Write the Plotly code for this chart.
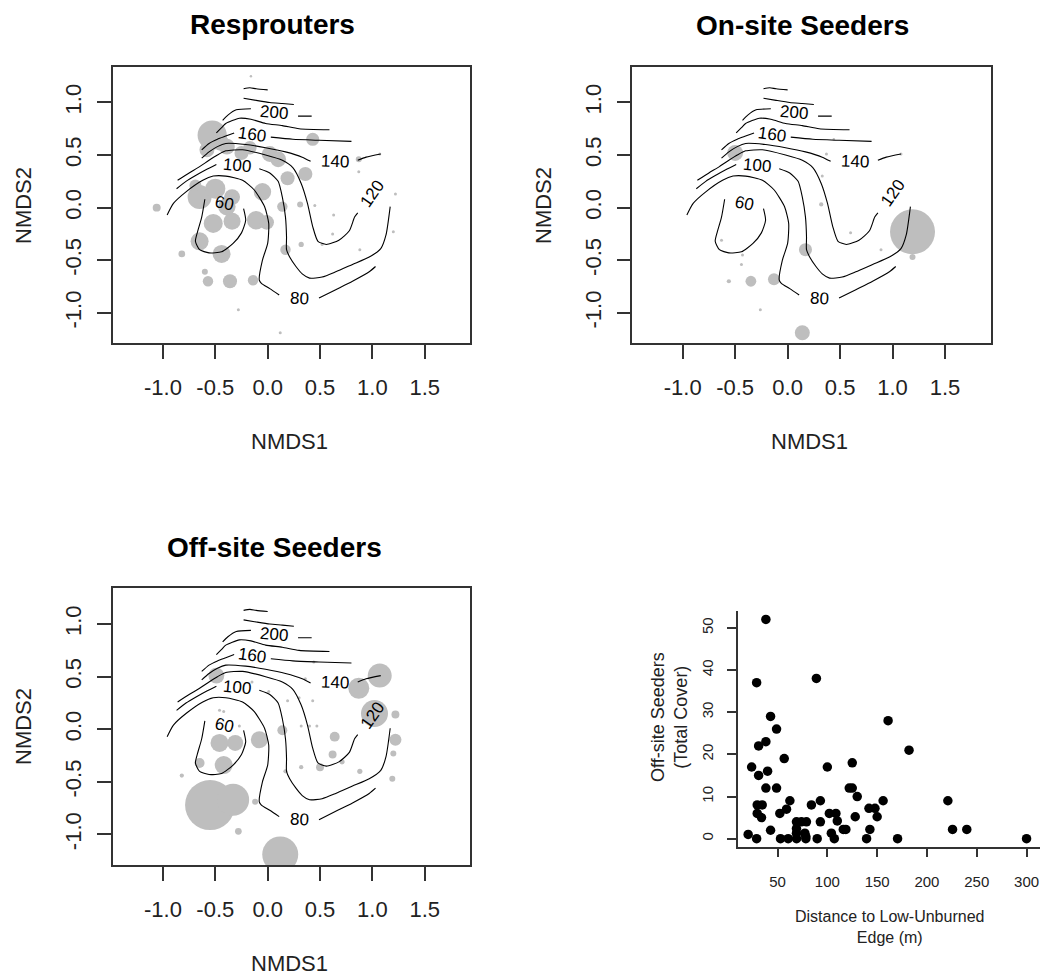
import plotly.graph_objects as go
import numpy as np

FONT = "Liberation Sans, Arial, Helvetica, sans-serif"
W, H = 1048, 977

# ---------------- data ----------------
nmds_x_ticks = [-1.0, -0.5, 0.0, 0.5, 1.0, 1.5]
nmds_y_ticks = [-1.0, -0.5, 0.0, 0.5, 1.0]
dist_ticks = [50, 100, 150, 200, 250, 300]
cover_ticks = [0, 10, 20, 30, 40, 50]

# Resprouters: site scores and cover
resp_x = [-0.16, -0.53, 0.43, -0.58, -0.39, -0.17, 0.02, 0.10, 0.19, 0.36, -0.05, -0.65, -0.50, -0.34,
          -1.06, 0.14, 0.31, 0.45, 0.63, -0.52, -0.34, -0.11, -0.01, -0.65, -0.82, -0.44, -0.60, -0.57,
          -0.36, -0.14, 0.17, 0.32, 0.52, 0.62, 0.88, 0.87, 0.87, 1.07, 1.22, 1.20, -0.28, 0.12, -0.69, -0.39,
          -0.45, -0.25]
resp_y = [1.25, 0.69, 0.65, 0.55, 0.58, 0.57, 0.51, 0.46, 0.28, 0.32, 0.15, 0.10, 0.18, 0.10,
          0.0, 0.01, 0.03, 0.02, -0.07, -0.15, -0.13, -0.12, -0.14, -0.32, -0.44, -0.44, -0.61, -0.70,
          -0.70, -0.69, -0.40, -0.35, -0.35, -0.25, -0.40, 0.46, 0.34, 0.51, 0.13, -0.23, -0.97, -1.19, 0.21, 0.01,
          0.62, 0.52]
resp_cover = [0.7, 95, 19, 25, 28, 20, 28, 28, 22, 22, 34, 64, 45, 28,
              7, 12, 4, 1, 1, 40, 32, 38, 24, 36, 5, 36, 4, 12,
              22, 12, 12, 3, 1, 1, 1, 4, 1, 1, 1, 1, 1, 1, 16, 34,
              30, 22]

# On-site seeders
onsite_x = [-0.50, 0.44, 0.37, 1.08, 0.33, 0.32, 0.60, 1.19, 1.19, 0.89, -0.63, -0.43, -0.44, 0.17,
            -0.56, -0.35, -0.13, -0.26, 0.14]
onsite_y = [0.52, 0.65, 0.51, 0.51, 0.30, 0.03, -0.24, -0.23, -0.47, -0.40, -0.31, -0.45, -0.54, -0.40,
            -0.70, -0.70, -0.68, -0.97, -1.19]
onsite_cover = [28, 0.7, 1, 1, 1, 2, 1, 225, 4, 1, 1, 1, 1, 19, 2, 13, 16, 1, 25]

# Off-site seeders
offsite_x = [-0.49, 1.07, 0.87, 1.02, 1.22, 1.22, 1.20, 1.19, 0.88, 0.64, 0.62, 0.71, 0.50, 0.32, 0.17,
             0.14, -0.08, -0.46, -0.31, -0.42, -0.65, -0.82, -0.55, -0.33, -0.28, 0.12, -0.12, -0.27,
             -0.46, -0.42, -0.15, 0.01, 0.19, 0.30, 0.43, 0.32, 0.40, 0.47, 0.44, 0.36]
offsite_y = [0.51, 0.51, 0.39, 0.15, 0.14, -0.10, -0.23, -0.47, -0.40, -0.07, -0.24, -0.31, -0.36, -0.36, -0.40,
             -0.01, -0.10, -0.13, -0.13, -0.34, -0.32, -0.44, -0.72, -0.67, -0.97, -1.19, -0.69, 0.03,
             0.18, 0.17, 0.45, 0.36, 0.27, 0.30, 0.27, 0.03, 0.03, 0.03, 0.64, 0.48]
offsite_cover = [28, 64, 49, 81, 7, 16, 4, 4, 3, 11, 7, 3, 7, 2, 2,
                 11, 32, 36, 28, 36, 11, 2, 278, 114, 5, 144, 4, 1,
                 1, 1, 1, 1, 1, 1, 1, 1, 1, 1, 1, 1]

# Fitted surface (contour) lines, one list of segments per level
contours = {
    240: [([-0.23, -0.17, -0.11, 0.0], [1.13, 1.14, 1.13, 1.12])],
    220: [([-0.23, -0.11, 0.02, 0.14, 0.25], [1.04, 1.02, 1.00, 0.99, 0.98])],
    200: [([-0.43, -0.38, -0.30, -0.16], [0.83, 0.88, 0.93, 0.94]),
          ([0.29, 0.42], [0.87, 0.87])],
    180: [([-0.49, -0.44, -0.40, -0.27, -0.16, -0.02, 0.14, 0.30, 0.59],
           [0.71, 0.76, 0.80, 0.85, 0.84, 0.80, 0.78, 0.75, 0.74])],
    160: [([-0.63, -0.56, -0.48, -0.40, -0.32], [0.55, 0.61, 0.65, 0.68, 0.71]),
          ([0.03, 0.24, 0.49, 0.80], [0.67, 0.65, 0.64, 0.63])],
    140: [([-0.63, -0.56, -0.48, -0.40, -0.21, -0.02, 0.17, 0.33, 0.41],
           [0.47, 0.53, 0.58, 0.61, 0.60, 0.57, 0.53, 0.48, 0.44]),
          ([0.86, 0.94, 1.08], [0.45, 0.48, 0.51])],
    120: [([-0.86, -0.75, -0.65, -0.56, -0.48, -0.40, -0.24, -0.02, 0.14, 0.24, 0.32, 0.38, 0.43, 0.48,
            0.56, 0.68, 0.78, 0.83, 0.86],
           [0.26, 0.33, 0.39, 0.45, 0.50, 0.54, 0.55, 0.50, 0.45, 0.38, 0.23, 0.04, -0.18, -0.32,
            -0.35, -0.31, -0.22, -0.09, -0.05])],
    100: [([-0.87, -0.78, -0.68, -0.59, -0.49], [0.18, 0.25, 0.31, 0.36, 0.41]),
          ([-0.08, 0.02, 0.10, 0.14, 0.17, 0.18, 0.18, 0.21, 0.27, 0.33, 0.40, 0.52, 0.65, 0.81, 0.97,
            1.08, 1.13, 1.17],
           [0.37, 0.33, 0.25, 0.10, -0.09, -0.28, -0.40, -0.47, -0.56, -0.63, -0.67, -0.66, -0.61,
            -0.54, -0.47, -0.39, -0.26, 0.01])],
    80: [([-0.96, -0.90, -0.78, -0.62, -0.52, -0.40, -0.24, -0.13, -0.03, 0.01, 0.0, -0.05, -0.08,
           -0.06, 0.02, 0.11],
          [-0.07, 0.04, 0.15, 0.26, 0.30, 0.30, 0.26, 0.17, 0.01, -0.15, -0.34, -0.50, -0.69,
           -0.72, -0.77, -0.83]),
         ([0.49, 0.65, 0.81, 0.97, 1.03], [-0.86, -0.78, -0.70, -0.61, -0.56])],
    60: [([-0.60, -0.63, -0.67, -0.69, -0.65, -0.56, -0.44, -0.33, -0.25, -0.21, -0.23],
          [0.08, -0.09, -0.23, -0.32, -0.40, -0.43, -0.42, -0.34, -0.24, -0.12, -0.01])],
}
label_level = [200, 160, 140, 120, 100, 80, 60]
label_x = [0.06, -0.15, 0.64, 1.00, -0.29, 0.30, -0.41]
label_y = [0.90, 0.70, 0.44, 0.135, 0.40, -0.86, 0.04]
label_angle = [5, 8, 2, -55, 5, 3, 12]

# Off-site seeder cover vs distance
dist_m = [20.5, 29, 24, 29, 31, 31, 29.6, 34.6, 29.6, 33.9, 38.3, 38.3, 40, 38.3, 43, 43, 49, 49, 52.3, 53,
          56.7, 59, 62.4, 60.7, 69.1, 78.4, 89.8, 69, 74, 79, 69, 69, 77.4, 78.4, 84, 93, 93, 89, 100,
          102, 108.6, 110, 104, 107, 116, 118.6, 122, 125, 125, 130, 128, 139.4, 142.7, 141.8, 147.8,
          150, 156, 161, 170.5, 182, 221, 225.7, 240, 300]
offsite_total = [1, 0, 17, 37, 22, 15, 8, 8, 6, 5, 52, 23, 16, 12, 2, 29, 26, 12, 6, 0,
                 19, 7, 9, 0, 0, 0, 0, 4, 4, 4, 2.4, 1.3, 1.3, 0.5, 8, 9, 4, 38, 17,
                 6, 6, 4.2, 1.3, 0, 2.2, 2.2, 12, 12, 18, 10, 5.2, 0, 2.2, 7.2, 7.2,
                 5.2, 9, 28, 0, 21, 9, 2.2, 2.2, 0]

# ---------------- figure ----------------
def fx(px):
    return px / W

def fy(py):
    return 1 - py / H

fig = go.Figure()

panels = [
    ("x", "y", resp_x, resp_y, resp_cover),
    ("x2", "y2", onsite_x, onsite_y, onsite_cover),
    ("x3", "y3", offsite_x, offsite_y, offsite_cover),
]
for xa, ya, bx, by, bc in panels:
    fig.add_trace(go.Scatter(
        x=bx, y=by, mode="markers", xaxis=xa, yaxis=ya,
        marker=dict(size=3 * np.sqrt(np.array(bc, dtype=float)), color="#bebebe",
                    line=dict(width=0), opacity=1),
        hoverinfo="skip", showlegend=False))
    for lvl, segs in contours.items():
        xs, ys = [], []
        for sx, sy in segs:
            xs += list(sx) + [None]
            ys += list(sy) + [None]
        fig.add_trace(go.Scatter(
            x=xs, y=ys, mode="lines", xaxis=xa, yaxis=ya,
            line=dict(color="black", width=1.1, shape="spline", smoothing=0.6),
            hoverinfo="skip", showlegend=False, connectgaps=False))

fig.add_trace(go.Scatter(
    x=dist_m, y=offsite_total, mode="markers", xaxis="x4", yaxis="y4",
    marker=dict(size=9.5, color="black", line=dict(width=0)),
    hoverinfo="skip", showlegend=False))

axis_line = dict(showline=True, linecolor="#333333", linewidth=1.5, showgrid=False, zeroline=False,
                 ticks="outside", tickcolor="#333333", tickwidth=1.5)
nmds_font = dict(family=FONT, size=22, color="#222222")

xr = [-1.48, 1.935]
yr = [-1.29, 1.34]

def nmds_x(dom, anchor):
    return dict(domain=dom, anchor=anchor, range=xr, mirror=True, ticklen=14,
                tickvals=nmds_x_ticks, ticktext=["%.1f" % v for v in nmds_x_ticks],
                tickfont=nmds_font, ticklabelstandoff=10, **axis_line)

def nmds_y(dom, anchor):
    return dict(domain=dom, anchor=anchor, range=yr, mirror=True, ticklen=14,
                tickvals=nmds_y_ticks, ticktext=["%.1f" % v for v in nmds_y_ticks],
                tickfont=nmds_font, tickangle=-90, ticklabelstandoff=7, **axis_line)

fig.update_layout(
    width=W, height=H, margin=dict(l=0, r=0, t=0, b=0),
    paper_bgcolor="white", plot_bgcolor="white", showlegend=False,
    xaxis=nmds_x([fx(112.7), fx(470.3)], "y"),
    yaxis=nmds_y([fy(343.3), fy(66.7)], "x"),
    xaxis2=nmds_x([fx(632.3), fx(990.7)], "y2"),
    yaxis2=nmds_y([fy(343.3), fy(66.7)], "x2"),
    xaxis3=nmds_x([fx(112.7), fx(470.3)], "y3"),
    yaxis3=nmds_y([fy(865.0), fy(588.3)], "x3"),
    xaxis4=dict(domain=[fx(737.7), fx(1040)], anchor="y4", range=[10, 313.5], ticklen=9,
                tickvals=dist_ticks, tickfont=dict(family=FONT, size=15, color="#222222"),
                ticklabelstandoff=12, **axis_line),
    yaxis4=dict(domain=[fy(846.7), fy(611)], anchor="x4", range=[-1.9, 54], ticklen=9,
                tickvals=cover_ticks, tickfont=dict(family=FONT, size=15, color="#222222"),
                tickangle=-90, ticklabelstandoff=8, **axis_line),
)

ann = []
# contour labels
for xa, ya in [("x", "y"), ("x2", "y2"), ("x3", "y3")]:
    for lv, lx, ly, la in zip(label_level, label_x, label_y, label_angle):
        ann.append(dict(x=lx, y=ly, xref=xa, yref=ya, text=str(lv), showarrow=False,
                        textangle=la, font=dict(family=FONT, size=17, color="black"),
                        xanchor="center", yanchor="middle"))

title_font = dict(family=FONT, size=28, color="black")
for txt, px, py in [("<b>Resprouters</b>", 272, 25), ("<b>On-site Seeders</b>", 802, 26),
                    ("<b>Off-site Seeders</b>", 274, 547)]:
    ann.append(dict(x=fx(px), y=fy(py), xref="paper", yref="paper", text=txt, showarrow=False,
                    font=title_font, xanchor="center", yanchor="middle"))

lab_font = dict(family=FONT, size=22, color="#222222")
for px, py in [(289, 441), (809, 441), (289, 963)]:
    ann.append(dict(x=fx(px), y=fy(py), xref="paper", yref="paper", text="NMDS1", showarrow=False,
                    font=lab_font, xanchor="center", yanchor="middle"))
for px, py in [(23, 206), (543, 206), (23, 727)]:
    ann.append(dict(x=fx(px), y=fy(py), xref="paper", yref="paper", text="NMDS2", showarrow=False,
                    font=lab_font, textangle=-90, xanchor="center", yanchor="middle"))

ann.append(dict(x=fx(889), y=fy(927), xref="paper", yref="paper",
                text="Distance to Low-Unburned<br>Edge (m)", showarrow=False,
                font=dict(family=FONT, size=16, color="#222222"), xanchor="center", yanchor="middle"))
ann.append(dict(x=fx(669), y=fy(717), xref="paper", yref="paper",
                text="Off-site Seeders<br>(Total Cover)", showarrow=False,
                font=dict(family=FONT, size=18, color="#222222"), textangle=-90,
                xanchor="center", yanchor="middle"))

fig.update_layout(annotations=ann)
fig.write_html("out.html", config={"displayModeBar": False},
               post_script="document.body.style.margin='0px';")
